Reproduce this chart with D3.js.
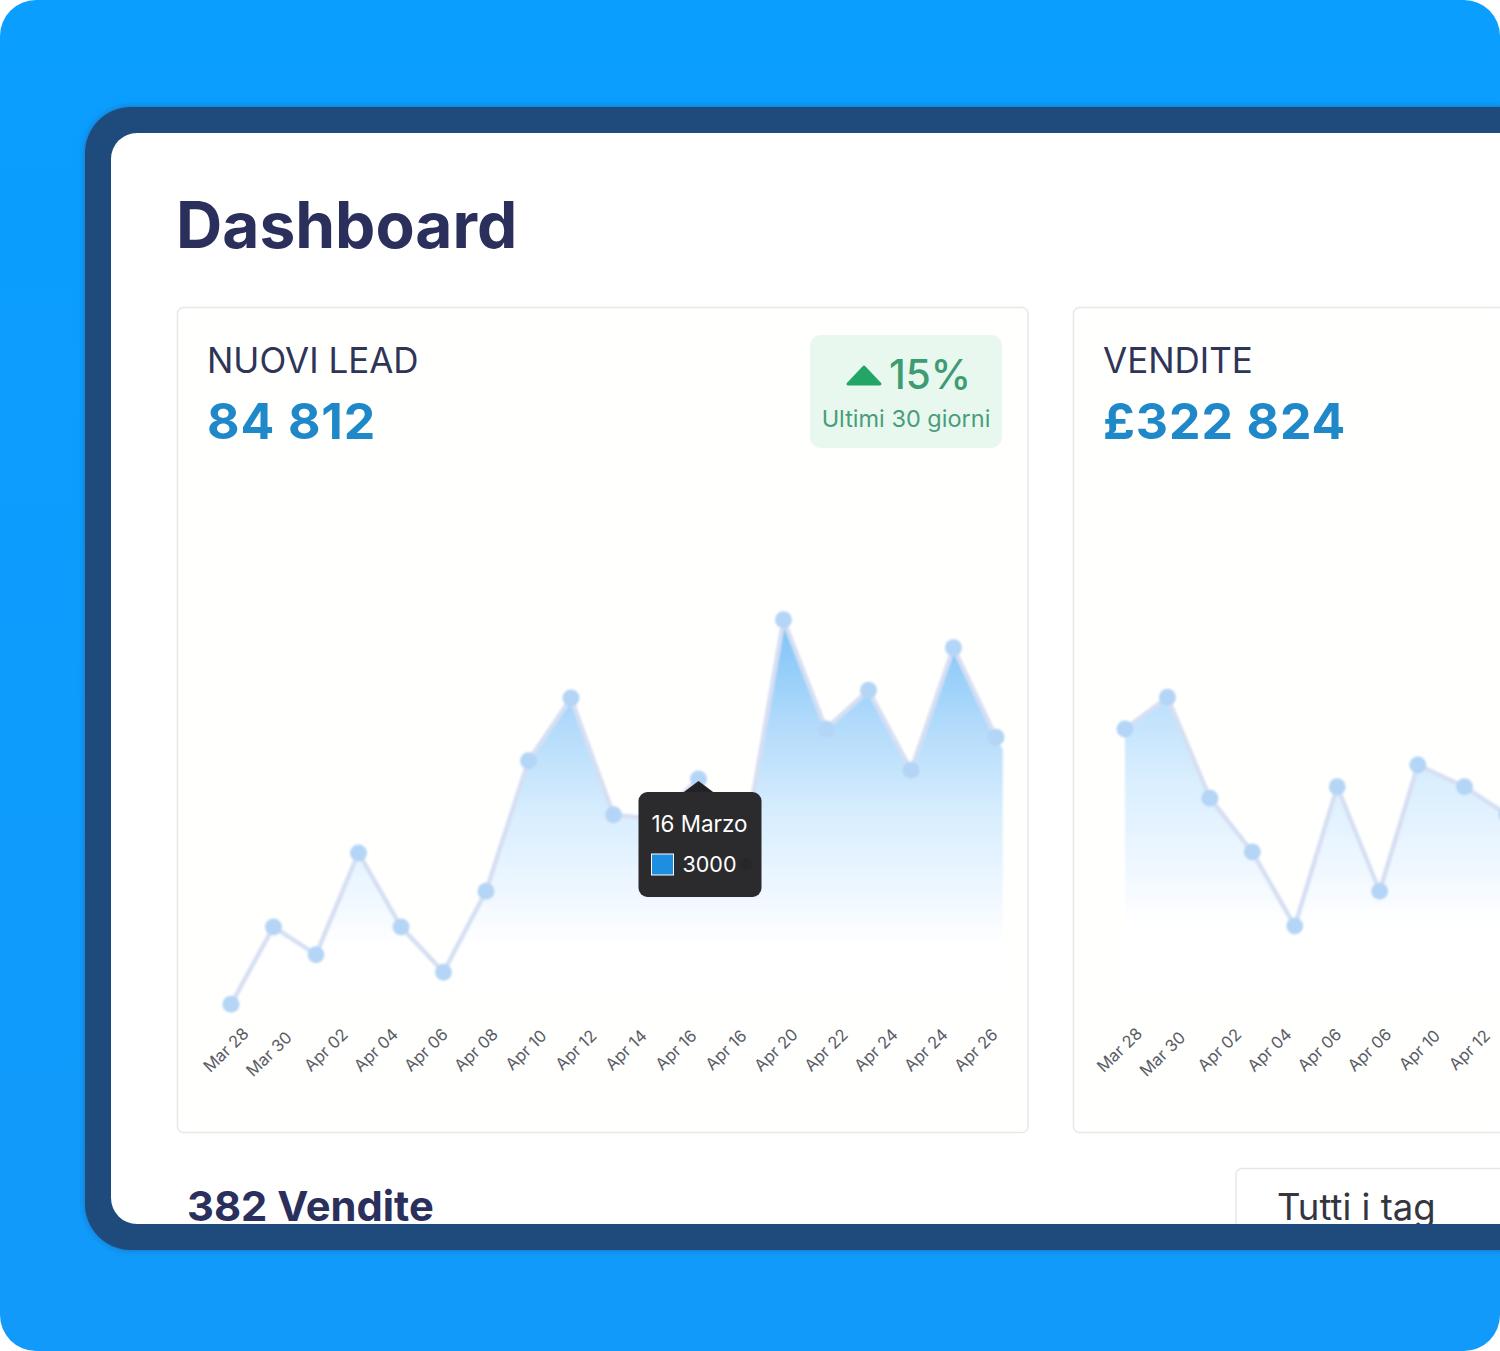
<!DOCTYPE html>
<html>
<head>
<meta charset="utf-8">
<script src="https://cdn.jsdelivr.net/npm/d3@7"></script>
<style>
  html, body { margin: 0; padding: 0; background: #fff; }
  svg { display: block; font-family: Inter, "Noto Sans", sans-serif; }
</style>
</head>
<body>
<div id="chart"></div>
<script>
// values
const leadValues = [410, 1300, 980, 2150, 1300, 780, 1710, 3210, 3930, 2590, 2540, 3000, 2020, 4830, 3575, 4020, 3100, 4510, 3480];
const leadTicks = ['Mar 28', 'Mar 30', 'Apr 02', 'Apr 04', 'Apr 06', 'Apr 08', 'Apr 10', 'Apr 12', 'Apr 14', 'Apr 16', 'Apr 16', 'Apr 20', 'Apr 22', 'Apr 24', 'Apr 24', 'Apr 26'];
const salesValues = [3575, 3940, 2780, 2160, 1310, 2910, 1710, 3160, 2910, 2590];
const salesSteps = [0, 1, 2, 3, 4, 5, 6, 6.9, 8, 9];
const salesTicks = ['Mar 28', 'Mar 30', 'Apr 02', 'Apr 04', 'Apr 06', 'Apr 06', 'Apr 10', 'Apr 12'];
const leadTailValue = 3340; // area carries on a little past the last dot

const width = 1500;
const height = 1351;

const svg = d3.select('#chart').append('svg')
    .attr('width', width)
    .attr('height', height)
    .attr('viewBox', '0 0 ' + width + ' ' + height);

const defs = svg.append('defs');

defs.append('clipPath').attr('id', 'page-clip')
    .append('rect')
    .attr('width', width).attr('height', height).attr('rx', 36);

defs.append('clipPath').attr('id', 'panel-clip')
    .append('rect')
    .attr('x', 111).attr('y', 133).attr('width', 1500).attr('height', 1091).attr('rx', 26);

const blur = defs.append('filter').attr('id', 'soft')
    .attr('x', '-10%').attr('y', '-10%').attr('width', '120%').attr('height', '120%');
blur.append('feGaussianBlur').attr('stdDeviation', 0.9);

const frameShadow = defs.append('filter').attr('id', 'frame-shadow')
    .attr('x', '-5%').attr('y', '-5%').attr('width', '110%').attr('height', '110%');
frameShadow.append('feGaussianBlur').attr('stdDeviation', 3);

const pageFill = defs.append('linearGradient').attr('id', 'page-fill')
    .attr('x1', 0).attr('x2', 0).attr('y1', 0).attr('y2', 1);
pageFill.append('stop').attr('offset', '0%').attr('stop-color', '#0a9eff');
pageFill.append('stop').attr('offset', '100%').attr('stop-color', '#119afa');

function addGradient(id, y1, y2) {
    const g = defs.append('linearGradient').attr('id', id)
        .attr('gradientUnits', 'userSpaceOnUse')
        .attr('x1', 0).attr('x2', 0).attr('y1', y1).attr('y2', y2);
    g.append('stop').attr('offset', '0%').attr('stop-color', '#7fc3f7');
    g.append('stop').attr('offset', '30%').attr('stop-color', '#b0dafb');
    g.append('stop').attr('offset', '60%').attr('stop-color', '#d9eefe');
    g.append('stop').attr('offset', '85%').attr('stop-color', '#f0f8ff');
    g.append('stop').attr('offset', '100%').attr('stop-color', '#ffffff');
}
addGradient('area-lead', 625, 945);
addGradient('area-sales', 560, 925);

const page = svg.append('g').attr('clip-path', 'url(#page-clip)');

page.append('rect').attr('width', width).attr('height', height).attr('fill', 'url(#page-fill)');

page.append('rect')
    .attr('x', 85).attr('y', 107).attr('width', 1500).attr('height', 1143).attr('rx', 46)
    .attr('fill', '#1b6fb8').attr('filter', 'url(#frame-shadow)');
page.append('rect')
    .attr('x', 85).attr('y', 107).attr('width', 1500).attr('height', 1143).attr('rx', 46)
    .attr('fill', '#1f4a7c');

const panel = page.append('g').attr('clip-path', 'url(#panel-clip)');

panel.append('rect')
    .attr('x', 111).attr('y', 133).attr('width', 1500).attr('height', 1091)
    .attr('fill', '#ffffff');

panel.append('text')
    .attr('x', 176).attr('y', 248)
    .attr('font-size', 64).attr('font-weight', 700)
    .attr('fill', '#2b2f5c')
    .text('Dashboard');

// yScale is shared, both cards sit on the same baseline
const yScale = d3.scaleLinear().domain([0, 6000]).range([1040, 518]);

function drawCard(opts) {
    const g = panel.append('g');

    g.append('rect')
        .attr('x', opts.cardX + 0.5).attr('y', 307.5)
        .attr('width', opts.cardW).attr('height', 825).attr('rx', 6)
        .attr('fill', '#fffffe')
        .attr('stroke', '#e6e7ea').attr('stroke-width', 1.5);

    g.append('text')
        .attr('x', opts.textX).attr('y', 373)
        .attr('font-size', 35).attr('fill', '#2e3557')
        .text(opts.title);

    g.append('text')
        .attr('x', opts.textX).attr('y', 439)
        .attr('font-size', 50).attr('font-weight', 700)
        .attr('letter-spacing', 0.9)
        .attr('fill', '#1f88c9')
        .text(opts.total);

    const steps = opts.steps || d3.range(opts.values.length);

    const x = d3.scaleLinear()
        .domain([0, opts.values.length - 1])
        .range(opts.xRange);

    const pts = opts.values.map((v, i) => [steps[i], v]);
    const areaPts = opts.tail ? pts.concat([opts.tail]) : pts;

    const area = d3.area()
        .x(d => x(d[0]))
        .y0(yScale(600))
        .y1(d => yScale(d[1]));

    const line = d3.line()
        .x(d => x(d[0]))
        .y(d => yScale(d[1]));

    const marks = g.append('g').attr('filter', 'url(#soft)');

    marks.append('path')
        .attr('d', area(areaPts))
        .attr('fill', 'url(#' + opts.gradient + ')');

    marks.append('path')
        .attr('d', line(pts))
        .attr('fill', 'none')
        .attr('stroke', '#d6dff3')
        .attr('stroke-width', 4.5)
        .attr('stroke-linejoin', 'round');

    marks.selectAll('circle')
        .data(pts)
        .enter().append('circle')
        .attr('cx', d => x(d[0]))
        .attr('cy', d => yScale(d[1]))
        .attr('r', 8.5)
        .attr('fill', '#b4d5f6');

    // tick labels are evenly spaced on their own, not under the dots
    const tickScale = d3.scalePoint()
        .domain(d3.range(opts.ticks.length))
        .range(opts.tickRange);

    const axis = d3.axisBottom(tickScale)
        .tickSize(0)
        .tickFormat(i => opts.ticks[i]);

    const axisG = g.append('g')
        .attr('transform', 'translate(0,1050)')
        .call(axis);

    axisG.select('.domain').remove();

    axisG.selectAll('text')
        .attr('font-family', 'Inter, "Noto Sans", sans-serif')
        .attr('font-size', 16.5)
        .attr('fill', '#5a5d66')
        .attr('text-anchor', 'middle')
        .attr('dy', '0.35em')
        .attr('y', 0)
        .attr('transform', (d, i) => {
            // second label sits a bit left and lower in the original
            const shift = i === 1 ? 'translate(-7,4) ' : '';
            return shift + 'rotate(-44)';
        });

    return { x: x, g: g };
}

const leadCard = drawCard({
    cardX: 177, cardW: 850.5,
    textX: 207,
    title: 'NUOVI LEAD', total: '84 812',
    values: leadValues,
    tail: [18.16, leadTailValue],
    ticks: leadTicks,
    xRange: [231, 996],
    tickRange: [225.5, 975.5],
    gradient: 'area-lead'
});

drawCard({
    cardX: 1073, cardW: 600,
    textX: 1103,
    title: 'VENDITE', total: '£322 824',
    values: salesValues,
    steps: salesSteps,
    ticks: salesTicks,
    xRange: [1125, 1507],
    tickRange: [1119, 1469],
    gradient: 'area-sales'
});

// badge
const badge = panel.append('g');
badge.append('rect')
    .attr('x', 810).attr('y', 335).attr('width', 192).attr('height', 113).attr('rx', 11)
    .attr('fill', '#e8f8ef');
badge.append('path')
    .attr('d', 'M864,367 L880,384 L848,384 Z')
    .attr('fill', '#22a565').attr('stroke', '#22a565')
    .attr('stroke-width', 3).attr('stroke-linejoin', 'round');
badge.append('text')
    .attr('x', 889).attr('y', 389)
    .attr('font-size', 40.5).attr('font-weight', 500).attr('fill', '#3e9c72')
    .text('15%');
badge.append('text')
    .attr('x', 906).attr('y', 427)
    .attr('text-anchor', 'middle')
    .attr('font-size', 23.5).attr('fill', '#4a9d7a')
    .text('Ultimi 30 giorni');

// tooltip over the "Apr 16" dot
const tipX = leadCard.x(11) - 1;
const tip = panel.append('g').attr('transform', 'translate(' + tipX + ',' + yScale(3000) + ')');
tip.append('path')
    .attr('d', 'M-15,14 L1,2 L17,14 Z')
    .attr('fill', '#232327');
tip.append('rect')
    .attr('x', -59).attr('y', 13).attr('width', 123).attr('height', 105).attr('rx', 9)
    .attr('fill', '#2b2b2e');
tip.append('text')
    .attr('x', 2).attr('y', 53)
    .attr('text-anchor', 'middle')
    .attr('font-size', 22.4).attr('fill', '#ffffff')
    .text('16 Marzo');
tip.append('rect')
    .attr('x', -46).attr('y', 75).attr('width', 22).attr('height', 21)
    .attr('fill', '#1e8fe0').attr('stroke', '#ffffff').attr('stroke-width', 1);
tip.append('text')
    .attr('x', -15).attr('y', 93)
    .attr('font-size', 21.5).attr('fill', '#ffffff')
    .text('3000');
// dark smudge where the hidden dot shows through
panel.append('circle')
    .attr('cx', leadCard.x(12) + 5).attr('cy', yScale(2020))
    .attr('r', 6).attr('fill', '#27272a');

// cut off row at the bottom of the panel
panel.append('text')
    .attr('x', 187).attr('y', 1221)
    .attr('font-size', 41.7).attr('font-weight', 700)
    .attr('fill', '#2b2f5c')
    .text('382 Vendite');
panel.append('rect')
    .attr('x', 1236).attr('y', 1168.5).attr('width', 400).attr('height', 100).attr('rx', 6)
    .attr('fill', '#ffffff').attr('stroke', '#e6e7ea').attr('stroke-width', 1.5);
panel.append('text')
    .attr('x', 1277).attr('y', 1220)
    .attr('font-size', 36.5).attr('fill', '#33363f')
    .text('Tutti i tag');
</script>
</body>
</html>
